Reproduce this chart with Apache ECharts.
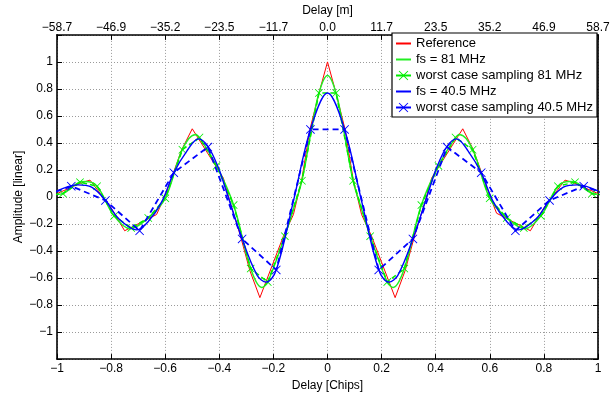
<!DOCTYPE html>
<html>
<head>
<meta charset="utf-8">
<script src="https://cdn.jsdelivr.net/npm/echarts@6/dist/echarts.min.js"></script>
<style>
html,body{margin:0;padding:0;background:#fff;}
#c{width:613px;height:397px;}
</style>
</head>
<body>
<div id="c"></div>
<script>
// ---------- data ----------
var xTickLabels = ['\u22121','\u22120.8','\u22120.6','\u22120.4','\u22120.2','0','0.2','0.4','0.6','0.8','1'];
var topTickLabels = ['\u221258.7','\u221246.9','\u221235.2','\u221223.5','\u221211.7','0.0','11.7','23.5','35.2','46.9','58.7'];
var yTickLabels = ['','\u22121','\u22120.8','\u22120.6','\u22120.4','\u22120.2','0','0.2','0.4','0.6','0.8','1',''];

var seriesNames = ['Reference','fs = 81 MHz','worst case sampling 81 MHz','fs = 40.5 MHz','worst case sampling 40.5 MHz'];

// Reference
var refX = [-1.0,-0.91,-0.878,-0.8,-0.75,-0.632,-0.6,-0.539,-0.5,-0.385,-0.36,-0.323,-0.287,-0.25,-0.163,-0.126,-0.095,-0.065,-0.03,0,
            0.03,0.065,0.095,0.126,0.163,0.25,0.287,0.323,0.36,0.385,0.5,0.539,0.6,0.625,0.75,0.8,0.878,0.91,1.0];
var refY = [0.025,0.105,0.125,-0.08,-0.25,-0.13,0.01,0.35,0.505,0.14,-0.04,-0.28,-0.545,-0.745,-0.29,-0.13,0.13,0.5,0.78,1.0,
            0.78,0.5,0.13,-0.13,-0.29,-0.745,-0.545,-0.28,-0.04,0.14,0.505,0.35,0.01,-0.12,-0.25,-0.08,0.125,0.105,0.025];

// fs = 81 MHz
var g81X = [-1.0,-0.979,-0.916,-0.895,-0.852,-0.789,-0.73,-0.663,-0.6,-0.537,-0.49,-0.473,-0.41,-0.347,-0.284,-0.243,-0.221,-0.158,-0.126,-0.0947,-0.063,-0.0316,0,
            0.0316,0.063,0.0947,0.126,0.158,0.221,0.243,0.284,0.347,0.41,0.473,0.49,0.537,0.6,0.663,0.73,0.789,0.852,0.895,0.916,0.979,1.0];
var g81Y = [0.02,0.025,0.11,0.115,0.08,-0.14,-0.235,-0.155,-0.01,0.35,0.46,0.44,0.23,-0.06,-0.53,-0.67,-0.63,-0.29,-0.09,0.12,0.46,0.77,0.9,
            0.77,0.46,0.12,-0.09,-0.29,-0.63,-0.67,-0.53,-0.06,0.23,0.44,0.46,0.35,-0.01,-0.155,-0.235,-0.14,0.08,0.115,0.11,0.025,0.02];

// worst case sampling 81 MHz
var w81X = [-1.0412,-0.9781,-0.915,-0.8519,-0.7888,-0.7257,-0.6626,-0.5995,-0.5364,-0.4733,-0.4102,-0.3471,-0.284,-0.2209,-0.1578,-0.0947,-0.0316,
            0.0316,0.0947,0.1578,0.2209,0.284,0.3471,0.4102,0.4733,0.5364,0.5995,0.6626,0.7257,0.7888,0.8519,0.915,0.9781,1.0412];
var w81Y = [0.01,0.025,0.11,0.08,-0.14,-0.23,-0.155,-0.01,0.35,0.44,0.23,-0.06,-0.53,-0.63,-0.29,0.12,0.77,
            0.77,0.12,-0.29,-0.63,-0.53,-0.06,0.23,0.44,0.35,-0.01,-0.155,-0.23,-0.14,0.08,0.11,0.025,0.01];

// fs = 40.5 MHz
var b40X = [-1.0,-0.925,-0.872,-0.821,-0.773,-0.705,-0.662,-0.613,-0.568,-0.52,-0.477,-0.442,-0.404,-0.38,-0.3157,-0.26,-0.227,-0.1894,-0.126,-0.0631,0,
            0.0631,0.126,0.1894,0.227,0.26,0.3157,0.38,0.404,0.442,0.477,0.52,0.568,0.613,0.662,0.705,0.773,0.821,0.872,0.925,1.0];
var b40Y = [0.045,0.09,0.073,-0.025,-0.158,-0.243,-0.18,-0.036,0.18,0.34,0.43,0.375,0.22,0.08,-0.31,-0.58,-0.63,-0.54,-0.03,0.5,0.77,
            0.5,-0.03,-0.54,-0.63,-0.58,-0.31,0.08,0.22,0.375,0.43,0.34,0.18,-0.036,-0.18,-0.243,-0.158,-0.025,0.073,0.09,0.045];

// worst case sampling 40.5 MHz
var w40X = [-1.0735,-0.9472,-0.8209,-0.6946,-0.5683,-0.442,-0.3157,-0.1894,-0.0631,
            0.0631,0.1894,0.3157,0.442,0.5683,0.6946,0.8209,0.9472,1.0735];
var w40Y = [-0.01,0.08,-0.025,-0.25,0.18,0.37,-0.31,-0.54,0.5,
            0.5,-0.54,-0.31,0.37,0.18,-0.25,-0.025,0.08,-0.01];

// ---------- chart ----------
function pairs(xs, ys){ var out=[]; for(var i=0;i<xs.length;i++){ out.push([xs[i], ys[i]]); } return out; }

var FONT = 'Liberation Sans, Arial, Helvetica, sans-serif';
var crossPath = 'path://M0,0.7 L0.7,0 L5,4.3 L9.3,0 L10,0.7 L5.7,5 L10,9.3 L9.3,10 L5,5.7 L0.7,10 L0,9.3 L4.3,5 Z';

var chart = echarts.init(document.getElementById('c'), null, {renderer:'canvas'});

var gridLine = {show:true, lineStyle:{color:'#9a9a9a', width:1, type:[1,2]}};
var axLine = {show:true, onZero:false, lineStyle:{color:'#000', width:1.6}};
var tick = {show:true, inside:true, length:5, lineStyle:{color:'#000', width:1}};
var lblStyle = {color:'#000', fontSize:12, fontFamily:FONT};

var hasMarker = [false, false, true, false, true];
var legendData = seriesNames.map(function(n, i){
  var item = {name:n};
  if (!hasMarker[i]) { item.itemStyle = {opacity:0}; }
  return item;
});

var option = {
  animation:false,
  backgroundColor:'#fff',
  grid:{left:57, right:15, top:33, bottom:34.5, containLabel:false},
  legend:{
    data: legendData,
    orient:'vertical', left:392, top:33,
    backgroundColor:'#fff', borderColor:'#000', borderWidth:1.2, borderRadius:0,
    padding:[4,4,3,3], itemGap:3, itemWidth:15, itemHeight:12,
    textStyle:{color:'#000', fontSize:13, fontFamily:FONT},
    lineStyle:{type:'solid'}
  },
  xAxis:[
    {type:'value', position:'bottom', min:-1, max:1, interval:0.2,
     axisLine:axLine, axisTick:tick, splitLine:gridLine,
     axisLabel:Object.assign({margin:4, formatter:function(v,i){ return xTickLabels[Math.round((v+1)/0.2)]; }}, lblStyle),
     name:'Delay [Chips]', nameLocation:'middle', nameGap:18,
     nameTextStyle:{color:'#000', fontSize:12, fontFamily:FONT}},
    {type:'value', position:'top', min:-1, max:1, interval:0.2,
     axisLine:axLine, axisTick:tick, splitLine:{show:false},
     axisLabel:Object.assign({margin:1, formatter:function(v,i){ return topTickLabels[Math.round((v+1)/0.2)]; }}, lblStyle),
     name:'Delay [m]', nameLocation:'middle', nameGap:15,
     nameTextStyle:{color:'#000', fontSize:12, fontFamily:FONT}},
  ],
  yAxis:[
    {type:'value', position:'left', min:-1.2, max:1.2, interval:0.2,
     axisLine:axLine, axisTick:tick, splitLine:gridLine,
     axisLabel:Object.assign({margin:4, formatter:function(v,i){ return yTickLabels[Math.round((v+1.2)/0.2)]; }}, lblStyle),
     name:'Amplitude [linear]', nameLocation:'middle', nameGap:32, nameMoveOverlap:false,
     nameTextStyle:{color:'#000', fontSize:12, fontFamily:FONT}},
    {type:'value', position:'right', min:-1.2, max:1.2, interval:0.2,
     axisLine:axLine, axisTick:tick, splitLine:{show:false}, axisLabel:{show:false}}
  ],
  series:[
    {name:seriesNames[0], type:'line', data:pairs(refX, refY), symbol:'none', smooth:false,
     lineStyle:{color:'#ff0000', width:1}, itemStyle:{color:'#ff0000'}, z:2},
    {name:seriesNames[1], type:'line', data:pairs(g81X, g81Y), symbol:'none', smooth:0.35,
     lineStyle:{color:'#22ee22', width:1.5}, itemStyle:{color:'#22ee22'}, z:3},
    {name:seriesNames[2], type:'line', data:pairs(w81X, w81Y), symbol:crossPath, symbolSize:8, showAllSymbol:true,
     lineStyle:{color:'#00ee00', width:1.5, type:[5,3]}, itemStyle:{color:'#00ee00'}, z:4},
    {name:seriesNames[3], type:'line', data:pairs(b40X, b40Y), symbol:'none', smooth:0.35,
     lineStyle:{color:'#0000ff', width:1.4}, itemStyle:{color:'#0000ff'}, z:5},
    {name:seriesNames[4], type:'line', data:pairs(w40X, w40Y), symbol:crossPath, symbolSize:9, showAllSymbol:true,
     lineStyle:{color:'#0000ff', width:1.8, type:[6,4]}, itemStyle:{color:'#0000ff'}, z:6}
  ]
};
chart.setOption(option);
</script>
</body>
</html>
